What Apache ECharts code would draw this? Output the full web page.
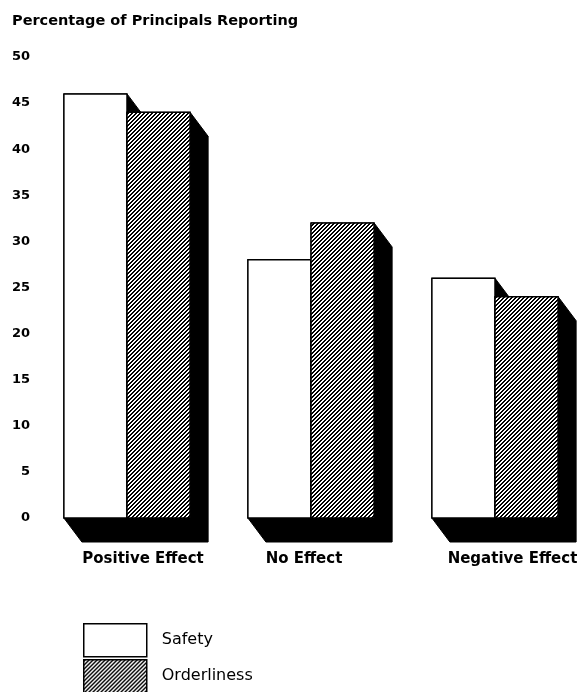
<!DOCTYPE html>
<html>
<head>
<meta charset="utf-8">
<script src="https://cdn.jsdelivr.net/npm/echarts@6/dist/echarts.min.js"></script>
<style>
html,body{margin:0;padding:0;background:#fff;}
#chart{width:577px;height:692px;}
</style>
</head>
<body>
<div id="chart"></div>
<script>
const categories = ['Positive Effect', 'No Effect', 'Negative Effect'];
const safety = [46, 28, 26];
const orderliness = [44, 32, 24];
const yMin = 0, yMax = 50, yStep = 5;
const titleText = 'Percentage of Principals Reporting';
const seriesNames = ['Safety', 'Orderliness'];

const FONT = 'DejaVu Sans, Liberation Sans, Arial, sans-serif';

// hatch pattern
const pc = document.createElement('canvas');
pc.width = 4; pc.height = 4;
const pctx = pc.getContext('2d');
pctx.fillStyle = '#fff'; pctx.fillRect(0, 0, 4, 4);
pctx.fillStyle = '#000';
for (let x = 0; x < 4; x++) for (let y = 0; y < 4; y++) {
  if ((x + y) % 4 < 2) pctx.fillRect(x, y, 1, 1);
}
const hatch = { image: pc, repeat: 'repeat' };

const DX = 18, DY = 24;
function renderBar(params, api) {
  const cat = api.value(0), val = api.value(1);
  const top = api.coord([cat, val]);
  const base = api.coord([cat, 0]);
  const band = api.size([1, 0])[0];
  const w = band * 0.343;
  const x0 = params.seriesIndex === 0 ? top[0] - w : top[0];
  const x1 = x0 + w;
  const y0 = top[1], y1 = base[1];
  return {
    type: 'group',
    children: [
      { type: 'polygon', shape: { points: [[x0, y0], [x1, y0], [x1 + DX, y0 + DY], [x1 + DX, y1 + DY], [x0 + DX, y1 + DY], [x0, y1]] },
        style: { fill: '#000', stroke: '#000', lineWidth: 1 } },
      { type: 'rect', shape: { x: x0, y: y0, width: w, height: y1 - y0 },
        style: { fill: params.seriesIndex === 0 ? '#fff' : hatch, stroke: '#000', lineWidth: 1.5 } }
    ]
  };
}

const catStyle = { fontFamily: FONT, fontWeight: 'bold', fontSize: 15, color: '#000' };
const labelPad = [[0, 0, 0, 32], [0, 14, 0, 0], [0, 0, 0, 35]];
function legendAt(name, top) {
  return { orient: 'vertical', left: 83, top: top, padding: 0, itemWidth: 63, itemHeight: 33,
    icon: 'rect', selectedMode: false,
    itemStyle: { borderColor: '#000', borderWidth: 1.5 },
    textStyle: { fontFamily: FONT, fontSize: 16, color: '#000', padding: [0, 0, 0, 10] },
    data: [name] };
}
const chart = echarts.init(document.getElementById('chart'));
chart.setOption({
  animation: false,
  backgroundColor: '#fff',
  title: { text: titleText, left: 12, top: 14, padding: 0,
    textStyle: { fontFamily: FONT, fontWeight: 'bold', fontSize: 14.5, color: '#000' } },
  grid: { left: 35, width: 552, top: 57, bottom: 174, containLabel: false, outerBoundsMode: 'none' },
  xAxis: { type: 'category', data: categories,
    axisLine: { show: false }, axisTick: { show: false }, splitLine: { show: false },
    axisLabel: { margin: 34, interval: 0,
      formatter: (v, i) => '{c' + i + '|' + v + '}',
      rich: {
        c0: Object.assign({ padding: labelPad[0] }, catStyle),
        c1: Object.assign({ padding: labelPad[1] }, catStyle),
        c2: Object.assign({ padding: labelPad[2] }, catStyle)
      } } },
  yAxis: { type: 'value', min: yMin, max: yMax, interval: yStep,
    axisLine: { show: false }, axisTick: { show: false }, splitLine: { show: false },
    axisLabel: { margin: 5, fontFamily: FONT, fontWeight: 'bold', fontSize: 13, color: '#000' } },
  legend: [legendAt(seriesNames[0], 623), legendAt(seriesNames[1], 659)],
  series: [
    { name: seriesNames[0], type: 'custom', renderItem: renderBar, itemStyle: { color: '#fff' },
      data: safety.map((v, i) => [i, v]), encode: { x: 0, y: 1 } },
    { name: seriesNames[1], type: 'custom', renderItem: renderBar, itemStyle: { color: hatch },
      data: orderliness.map((v, i) => [i, v]), encode: { x: 0, y: 1 } }
  ]
});
</script>
</body>
</html>
